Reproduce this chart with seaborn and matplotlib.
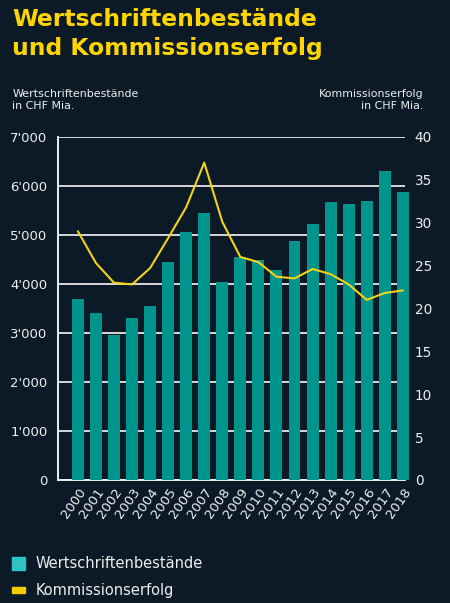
import matplotlib
matplotlib.use("Agg")
import matplotlib.pyplot as plt
import seaborn as sns
import pandas as pd
import numpy as np
from matplotlib.patches import Rectangle

years = [str(y) for y in range(2000, 2019)]
bestaende = [3700, 3400, 2950, 3300, 3550, 4450, 5050, 5450, 4040, 4550,
             4490, 4290, 4880, 5220, 5670, 5630, 5690, 6300, 5880]
kommission = [29.0, 25.3, 23.0, 22.8, 24.7, 28.2, 31.8, 37.0, 30.1, 26.0,
              25.4, 23.7, 23.5, 24.6, 24.0, 22.8, 21.0, 21.8, 22.1]
left_ticks = [0, 1000, 2000, 3000, 4000, 5000, 6000, 7000]
left_labels = ["0", "1'000", "2'000", "3'000", "4'000", "5'000", "6'000", "7'000"]
right_ticks = [0, 5, 10, 15, 20, 25, 30, 35, 40]

BG = "#0b1a26"
TEAL = "#00958c"
TEAL_LEG = "#2fc3c3"
YELLOW = "#f2d21a"
WHITE = "#eeeeee"

sns.set_theme(style="dark")
plt.rcParams['font.family'] = ['DejaVu Sans']

df = pd.DataFrame({"Jahr": years, "Bestand": bestaende, "Komm": kommission})

fig = plt.figure(figsize=(4.5, 6.03), dpi=100, facecolor=BG)
ax = fig.add_axes([58/450, 0.204, (405-58)/450, 0.569])
ax.set_facecolor(BG)

sns.barplot(data=df, x="Jahr", y="Bestand", color=TEAL, saturation=1,
            width=0.66, ax=ax, zorder=3, edgecolor="none", linewidth=0)
for p in ax.patches:
    p.set_clip_on(False)
ax.set_ylim(0, 7000)
ax.set_xlim(-1.1, 18.12)
ax.set_yticks(left_ticks)
ax.set_yticklabels(left_labels)
ax.yaxis.grid(True, color="#d8d8d8", lw=1.4, zorder=1)
ax.xaxis.grid(False)
ax.set_axisbelow(True)
ax.set_xlabel("")
ax.set_ylabel("")
for s in ["top", "right"]:
    ax.spines[s].set_visible(False)
for s in ["left", "bottom"]:
    ax.spines[s].set_visible(True)
    ax.spines[s].set_color(WHITE)
    ax.spines[s].set_linewidth(1.4)
ax.tick_params(axis="y", colors=WHITE, labelsize=9.5, length=0, pad=7.5)
ax.tick_params(axis="x", colors=WHITE, labelsize=9.5, length=0, pad=4)
plt.setp(ax.get_xticklabels(), rotation=55, ha="right", rotation_mode="anchor")

ax2 = ax.twinx()
sns.pointplot(data=df, x="Jahr", y="Komm", color=YELLOW, markers="",
              linestyles="-", lw=1.5, ax=ax2, errorbar=None)
ax2.set_xlim(-1.1, 18.12)
ax2.set_ylim(0, 40)
ax2.set_yticks(right_ticks)
ax2.set_ylabel("")
ax2.grid(False)
for s in ax2.spines.values():
    s.set_visible(False)
ax2.tick_params(axis="y", colors=WHITE, labelsize=9.8, length=0, pad=7)

fig.text(0.027, 1 - 8/603, "Wertschriftenbestände\nund Kommissionserfolg",
         color="#ffd500", fontsize=16.8, fontweight="bold", va="top",
         linespacing=1.32)
fig.text(0.027, 0.853, "Wertschriftenbestände\nin CHF Mia.", color=WHITE,
         fontsize=7.9, va="top", linespacing=1.3)
fig.text(0.94, 0.853, "Kommissionserfolg\nin CHF Mia.", color=WHITE,
         fontsize=7.9, va="top", ha="right", multialignment="right",
         linespacing=1.3)

# legend
fig.patches.append(Rectangle((12/450, 1-570/603), 13/450, 13/603,
                             transform=fig.transFigure, color=TEAL_LEG))
fig.patches.append(Rectangle((12/450, 1-593/603), 13/450, 6/603,
                             transform=fig.transFigure, color="#f5cc00"))
fig.text(36/450, 1-563.5/603, "Wertschriftenbestände", color=WHITE,
         fontsize=10.5, va="center")
fig.text(36/450, 1-590/603, "Kommissionserfolg", color=WHITE,
         fontsize=10.5, va="center")

fig.savefig("out.png", dpi=100, facecolor=BG)
